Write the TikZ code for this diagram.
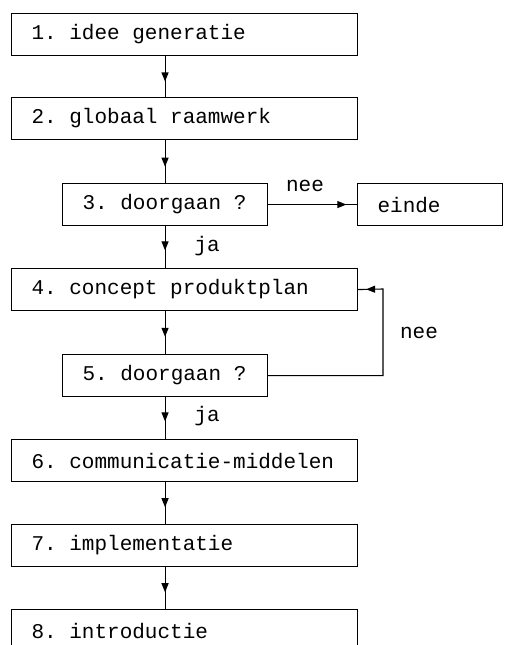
\documentclass[tikz,border=0pt]{standalone}
\usepackage{fontspec}
\setmainfont{Liberation Mono}
\usetikzlibrary{arrows.meta,decorations.markings}
\newcommand{\monofnt}{\fontsize{21}{25}\selectfont}
\newcommand{\monospaces}{\spaceskip=12.6pt\relax\xspaceskip=12.6pt\relax}
\begin{document}
\begin{tikzpicture}[x=1pt,y=-1pt,
 box/.style={draw, line width=1.1pt, anchor=north west, inner xsep=20pt, inner ysep=0pt, align=left, minimum height=42pt, font=\monofnt, execute at begin node=\monospaces},
 wide/.style={box, text width=306pt},
 narrow/.style={box, text width=165pt},
 conn/.style={line width=1.1pt},
 midarrow/.style={conn, postaction={decorate}, decoration={markings, mark=at position #1 with {\arrow{Triangle[width=7pt,length=9pt]}}}},
 lbl/.style={font=\monofnt, inner sep=0pt}]
\useasboundingbox (0,0) rectangle (515,645);
\clip (0,0) rectangle (515,645);
\node[wide] (b1) at (11,13) {1. idee generatie};
\node[wide] (b2) at (11,97) {2. globaal raamwerk};
\node[narrow] (b3) at (62,183) {3. doorgaan ?};
\node[box, text width=105pt] (e) at (357,183) {einde};
\node[wide] (b4) at (11,268) {4. concept produktplan};
\node[narrow] (b5) at (62,354) {5. doorgaan ?};
\node[wide] (b6) at (11,439) {6. communicatie-middelen};
\node[wide] (b7) at (11,524) {7. implementatie};
\node[wide] (b8) at (11,609) {8. introductie};
\coordinate (fb) at (383,289);
\draw[midarrow=0.62] (b3.north |- b1.south) -- (b3.north |- b2.north);
\draw[midarrow=0.62] (b3.north |- b2.south) -- (b3.north);
\draw[midarrow=0.88] (b3.east) -- (e.west);
\draw[midarrow=0.58] (b3.south) -- (b3.south |- b4.north);
\draw[midarrow=0.6] (b5.north |- b4.south) -- (b5.north);
\draw[midarrow=0.58] (b5.south) -- (b5.south |- b6.north);
\draw[midarrow=0.6] (b5.south |- b6.south) -- (b5.south |- b7.north);
\draw[midarrow=0.6] (b5.south |- b7.south) -- (b5.south |- b8.north);
\draw[midarrow=-8pt] (b5.east) -| (fb) -- (b4.east);
\node[lbl] (n1) at (305,186) {nee};
\node[lbl] (j1) at (207,246) {ja};
\node[lbl] (n2) at (419,333) {nee};
\node[lbl] (j2) at (207,416) {ja};
\end{tikzpicture}
\end{document}
